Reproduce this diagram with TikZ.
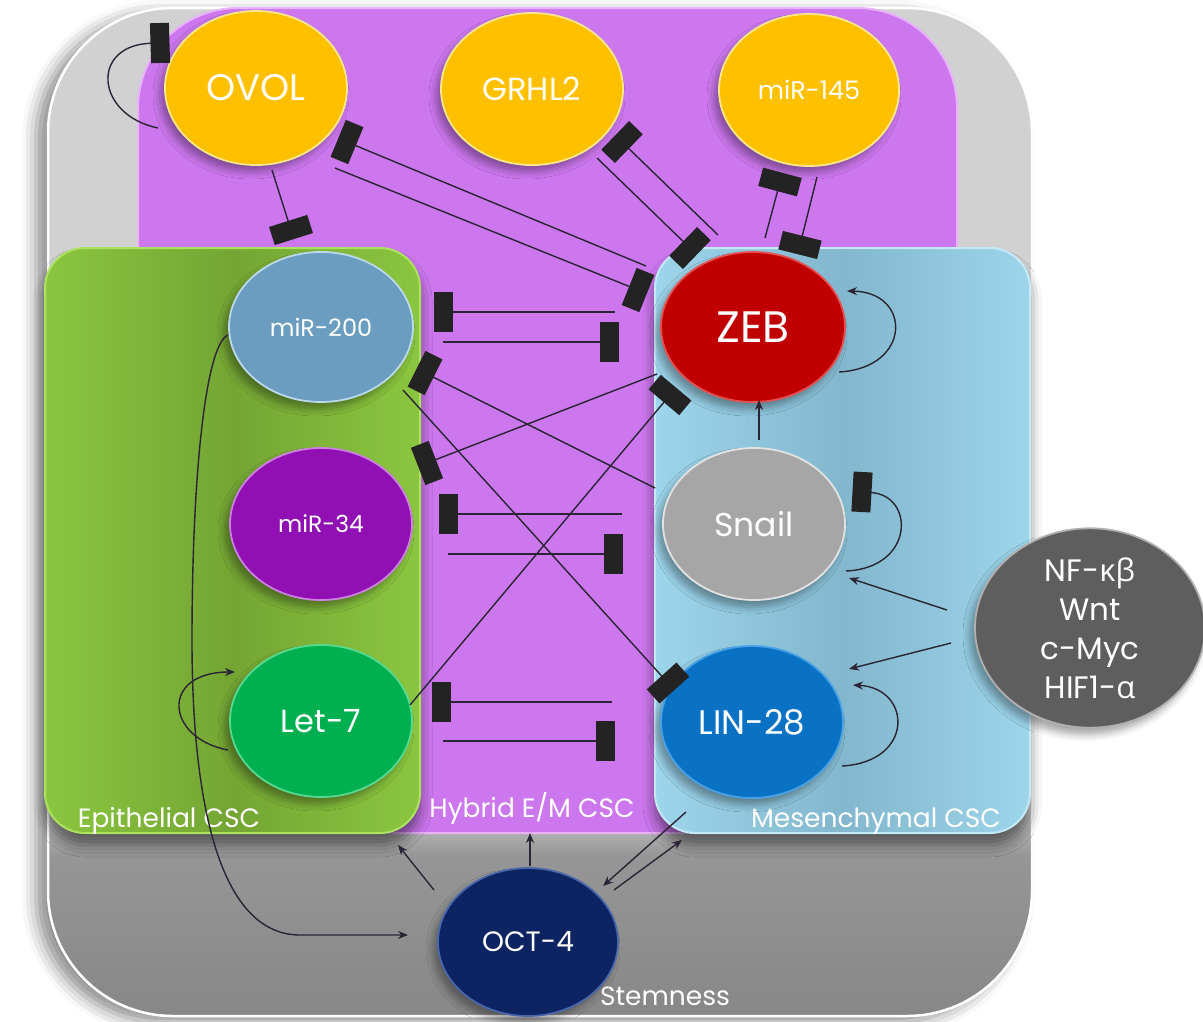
\documentclass[tikz,border=0pt]{standalone}
\usepackage{fontspec}
\setmainfont{Poppins}
\newfontfamily\grk{Open Sans}
\usetikzlibrary{arrows.meta,shapes.geometric,shadows.blur}

% palette
\definecolor{gLight}{HTML}{D1D1D1}
\definecolor{gEdge}{HTML}{969696}
\definecolor{gDark}{HTML}{878787}
\definecolor{hybc}{HTML}{CC77EE}
\definecolor{hybr}{HTML}{E9B2FA}
\definecolor{epic}{HTML}{8BC63F}
\definecolor{epid}{HTML}{74A534}
\definecolor{epir}{HTML}{ABE35F}
\definecolor{mesc}{HTML}{9DD5EB}
\definecolor{mesd}{HTML}{82B7CD}
\definecolor{mesr}{HTML}{C4EAF7}
\definecolor{amber}{HTML}{FFC000}
\definecolor{amberr}{HTML}{FFE88A}
\definecolor{zebc}{HTML}{C00000}
\definecolor{zebr}{HTML}{E65050}
\definecolor{snailc}{HTML}{A6A6A6}
\definecolor{snailr}{HTML}{E2E2E2}
\definecolor{linc}{HTML}{0A72C4}
\definecolor{linr}{HTML}{49A2E6}
\definecolor{twoc}{HTML}{6A9DC0}
\definecolor{twor}{HTML}{BCD9EC}
\definecolor{thirc}{HTML}{9010B4}
\definecolor{thirr}{HTML}{CC80E0}
\definecolor{letc}{HTML}{00B050}
\definecolor{letr}{HTML}{55DA90}
\definecolor{octc}{HTML}{0E2462}
\definecolor{octr}{HTML}{4A67AC}
\definecolor{nfc}{HTML}{5E5E5E}
\definecolor{nfr}{HTML}{B0B0B0}
\definecolor{linec}{HTML}{2A2434}
\definecolor{barc}{HTML}{232323}

\pgfdeclareverticalshading{outergray}{100bp}{color(0bp)=(gDark); color(25bp)=(gDark); color(33bp)=(gEdge); color(35.5bp)=(gLight); color(100bp)=(gLight)}

\tikzset{
  box/.style={rectangle, inner sep=0pt, outer sep=0pt},
  conn/.style={draw=linec, line width=1.4pt},
  act/.style={conn, -{Stealth[length=10pt,width=8pt]}},
  inh/.style={conn, -{Rectangle[length=19pt,width=40pt,fill=barc,color=barc]}, shorten >=-9.5pt},
  gene/.style 2 args={ellipse, inner sep=0pt, outer sep=0pt, fill=#1, draw=#2, line width=1.8pt, text=white,
    blur shadow={shadow xshift=-5pt, shadow yshift=-7pt, shadow opacity=35, shadow blur radius=7pt}},
  area/.style={text=white, font=\fontsize{26.5}{30}\selectfont},
}

\begin{document}
\begin{tikzpicture}[x=1pt,y=-1pt]
\useasboundingbox (0,0) rectangle (1203,1021);

% compartments
\node[box, minimum width=984pt, minimum height=1008pt, rounded corners=125pt,
      shading=outergray, draw=white, line width=2.5pt,
      blur shadow={shadow xshift=-12pt, shadow yshift=-6pt, shadow opacity=45, shadow blur radius=14pt}]
      (stem) at (540,512) {};
\node[box, minimum width=819pt, minimum height=825pt, rounded corners=100pt,
      fill=hybc, draw=hybr, line width=2pt] (hyb) at (547.5,420.5) {};
\node[box, minimum width=375pt, minimum height=585pt, rounded corners=40pt,
      left color=epic, right color=epic, middle color=epid, draw=epir, line width=2pt,
      blur shadow={shadow xshift=0pt, shadow yshift=-12pt, shadow opacity=50, shadow blur radius=12pt}]
      (epi) at (232.5,540.5) {};
\node[box, minimum width=375pt, minimum height=585pt, rounded corners=40pt,
      left color=mesc, right color=mesc, middle color=mesd, draw=mesr, line width=2pt,
      blur shadow={shadow xshift=0pt, shadow yshift=-12pt, shadow opacity=50, shadow blur radius=12pt}]
      (mes) at (842.5,540.5) {};

% compartment labels
\node[area] (epilab) at (169,821) {Epithelial CSC};
\node[area] (hyblab) at (532,808) {Hybrid E/M CSC};
\node[area] (meslab) at (876,821) {Mesenchymal CSC};
\node[area] (stemlab) at (665,996) {Stemness};

% regulators
\node[gene={amber}{amberr}, minimum width=182pt, minimum height=154pt, font=\fontsize{37}{42}\selectfont] (ovol) at (256,88) {OVOL};
\node[gene={amber}{amberr}, minimum width=182pt, minimum height=152pt, font=\fontsize{32}{36}\selectfont] (grhl) at (532,89) {GRHL2};
\node[gene={amber}{amberr}, minimum width=180pt, minimum height=152pt, font=\fontsize{25.5}{30}\selectfont] (m145) at (809,90) {miR-145};
\node[gene={zebc}{zebr}, minimum width=184pt, minimum height=150pt, font=\fontsize{44}{50}\selectfont] (zeb) at (753,327) {ZEB};
\node[gene={snailc}{snailr}, minimum width=182pt, minimum height=152pt, font=\fontsize{33}{38}\selectfont] (snail) at (754,524) {Snail};
\node[gene={linc}{linr}, minimum width=182pt, minimum height=152pt, font=\fontsize{34}{38}\selectfont] (lin) at (752,722) {LIN-28};
\node[gene={twoc}{twor}, minimum width=184pt, minimum height=150pt, font=\fontsize{24}{28}\selectfont] (m200) at (321,327) {miR-200};
\node[gene={thirc}{thirr}, minimum width=182pt, minimum height=152pt, font=\fontsize{23.5}{28}\selectfont] (m34) at (321,524) {miR-34};
\node[gene={letc}{letr}, minimum width=182pt, minimum height=152pt, font=\fontsize{32}{38}\selectfont] (let) at (321,721) {Let-7};
\node[gene={octc}{octr}, minimum width=180pt, minimum height=148pt, font=\fontsize{28}{33}\selectfont] (oct) at (528,942) {OCT-4};
\node[gene={nfc}{nfr}, minimum width=230pt, minimum height=178pt, align=center, font=\fontsize{31}{39}\selectfont] (nf) at (1090,628)
  {NF-{\grk κβ}\\Wnt\\c-Myc\\HIF1-{\grk α}};

% end points of the regulatory links
\coordinate (ovolL) at (158,128);   \coordinate (ovolT) at (160,43);
\coordinate (ovolD) at (272,170);   \coordinate (m200T) at (291,230);
\coordinate (zebA) at (646,266);    \coordinate (ovolR) at (347,142);
\coordinate (ovolR2) at (335,168);  \coordinate (zebB) at (638,290);
\coordinate (zebC) at (718,235);    \coordinate (grhlB) at (622,142);
\coordinate (grhlF) at (597,158);   \coordinate (zebD) at (690,248);
\coordinate (zebE) at (765,238);    \coordinate (m145B) at (780,182);
\coordinate (m145F) at (817,177);   \coordinate (zebF) at (800,245);
\coordinate (zebG) at (615,312);    \coordinate (m200B) at (443,312);
\coordinate (m200F) at (443,342);   \coordinate (zebH) at (609,342);
\coordinate (snailA) at (622,514);  \coordinate (m34B) at (448,514);
\coordinate (m34F) at (448,554);    \coordinate (snailB) at (613,554);
\coordinate (linA) at (612,702);    \coordinate (letB) at (441,702);
\coordinate (letF) at (443,741);    \coordinate (linB) at (605,741);
\coordinate (snailC) at (655,488);  \coordinate (m200C) at (425,373);
\coordinate (m200D) at (403,390);   \coordinate (linC) at (668,683);
\coordinate (zebI) at (657,374);    \coordinate (m34C) at (427,463);
\coordinate (letD) at (410,705);    \coordinate (zebJ) at (670,395);
\coordinate (snailL) at (846,571);  \coordinate (snailT) at (862,492);
\coordinate (zebLo) at (839,372);   \coordinate (zebUp) at (847,291);
\coordinate (linLo) at (842,766);   \coordinate (linUp) at (853,685);
\coordinate (letLo) at (228,750);   \coordinate (letUp) at (235,672);
\coordinate (snailU) at (759,440);  \coordinate (zebBot) at (759,400);
\coordinate (nfA) at (947,610);     \coordinate (snailR) at (849,578);
\coordinate (nfB) at (951,643);     \coordinate (linR) at (849,669);
\coordinate (m200L) at (228,335);   \coordinate (octL) at (408,935);
\coordinate (octUL) at (434,890);   \coordinate (epiIn) at (398,845);
\coordinate (octU) at (530,866);    \coordinate (hybIn) at (530,833);
\coordinate (linDL) at (686,812);   \coordinate (octUR) at (603,886);
\coordinate (octR) at (614,890);    \coordinate (mesIn) at (682,840);

% inhibitions
\draw[inh] (ovolL) .. controls (95,115) and (90,45) .. (ovolT);
\draw[inh] (ovolD) -- (m200T);
\draw[inh] (zebA) -- (ovolR);
\draw[inh] (ovolR2) -- (zebB);
\draw[inh] (zebC) -- (grhlB);
\draw[inh] (grhlF) -- (zebD);
\draw[inh] (zebE) -- (m145B);
\draw[inh] (m145F) -- (zebF);
\draw[inh] (zebG) -- (m200B);
\draw[inh] (m200F) -- (zebH);
\draw[inh] (snailA) -- (m34B);
\draw[inh] (m34F) -- (snailB);
\draw[inh] (linA) -- (letB);
\draw[inh] (letF) -- (linB);
\draw[inh] (snailC) -- (m200C);
\draw[inh] (m200D) -- (linC);
\draw[inh] (zebI) -- (m34C);
\draw[inh] (letD) -- (zebJ);
\draw[inh] (snailL) .. controls (915,568) and (915,495) .. (snailT);

% activations
\draw[act] (zebLo) .. controls (912,368) and (912,292) .. (zebUp);
\draw[act] (linLo) .. controls (915,762) and (912,688) .. (linUp);
\draw[act] (letLo) .. controls (165,738) and (160,672) .. (letUp);
\draw[act] (snailU) -- (zebBot);
\draw[act] (nfA) -- (snailR);
\draw[act] (nfB) -- (linR);
\draw[act] (m200L) .. controls (205,345) and (192,480) .. (192,640)
                   .. controls (192,820) and (225,935) .. (300,935) -- (octL);
\draw[act] (octUL) -- (epiIn);
\draw[act] (octU) -- (hybIn);
\draw[act] (linDL) -- (octUR);
\draw[act] (octR) -- (mesIn);
\end{tikzpicture}
\end{document}
